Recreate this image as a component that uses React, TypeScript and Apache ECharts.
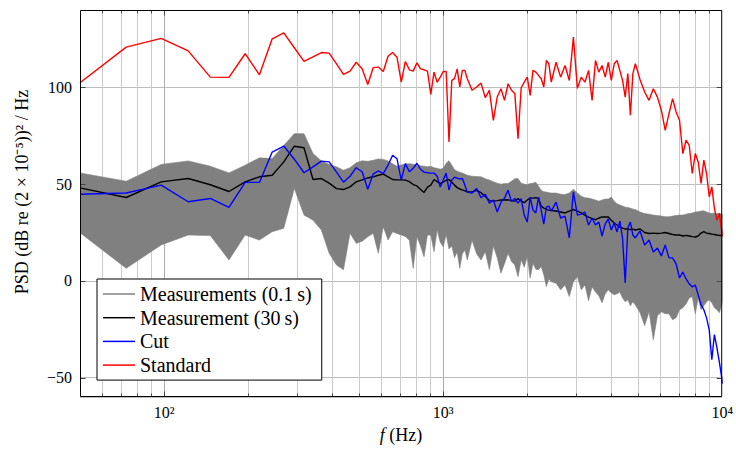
import React, { useEffect, useRef } from 'react';
import * as echarts from 'echarts';

// Frequency bins (Hz) read along the x axis
const freqs = [
  50, 73.2, 97.7, 122.1, 146.5, 170.9, 195.3, 219.7, 244.1, 268.6,
  293.0, 317.4, 341.8, 366.2, 390.6, 415.0, 439.5, 463.9, 488.3, 512.7,
  537.1, 561.5, 585.9, 610.4, 634.8, 659.2, 683.6, 708.0, 732.4, 756.8,
  781.3, 805.7, 830.1, 854.5, 878.9, 903.3, 927.7, 952.1, 976.6, 1001.0,
  1025.4, 1049.8, 1074.2, 1098.6, 1123.0, 1147.5, 1171.9, 1196.3, 1220.7,
  1269.5, 1318.4, 1367.2, 1416.0, 1464.8, 1513.7, 1562.5, 1611.3, 1660.2, 1709.0,
  1757.8, 1806.6, 1855.5, 1904.3, 1953.1, 2002.0, 2050.8, 2099.6, 2148.4, 2197.3,
  2246.1, 2294.9, 2343.8, 2392.6, 2441.4,
  2539.1, 2636.7, 2734.4, 2832.0, 2929.7, 3027.3, 3125.0, 3222.7, 3320.3, 3418.0,
  3515.6, 3613.3, 3710.9, 3808.6, 3906.3, 4003.9, 4101.6, 4199.2, 4296.9, 4394.5,
  4492.2, 4589.8, 4687.5, 4785.2, 4882.8,
  5078.1, 5273.4, 5468.8, 5664.1, 5859.4, 6054.7, 6250.0, 6445.3, 6640.6, 6835.9,
  7031.3, 7226.6, 7421.9, 7617.2, 7812.5, 8007.8, 8203.1, 8398.4, 8593.8, 8789.1,
  8984.4, 9179.7, 9375.0, 9570.3, 9765.6, 9960.9,
  10000,
];

// Standard (red)
const standardPsd = [
  102.4, 120.8, 125.3, 118.9, 105.3, 105.2, 117.4, 106.5, 125.1, 128.2,
  120.5, 113.4, 115.8, 118.0, 117.7, 112.2, 106.7, 108.4, 113.0, 109.6,
  101.5, 110.2, 110.5, 108.2, 116.1, 118.0, 115.6, 102.7, 113.4, 109.1,
  108.4, 112.7, 109.6, 109.1, 108.4, 96.4, 107.9, 102.7, 105.3, 108.2,
  108.2, 71.8, 103.6, 104.5, 109.6, 100.2, 108.8, 108.8, 104.5,
  98.5, 100.2, 102.2, 94.7, 98.5, 83.0, 95.0, 99.3, 93.3, 101.9,
  98.5, 96.8, 73.5, 99.8, 102.7, 105.3, 95.9, 108.8, 107.9, 106.2,
  104.5, 100.2, 113.9, 112.2, 102.7,
  113.0, 105.3, 111.3, 103.6, 126.0, 99.5, 105.3, 102.7, 108.8, 93.3,
  113.9, 107.9, 111.3, 105.3, 113.0, 103.6, 112.2, 113.9, 108.8, 103.6,
  95.0, 107.1, 85.6, 107.1, 112.2,
  104.0, 97.6, 93.3, 99.3, 95.0, 88.1, 77.8, 86.4, 94.2, 87.3,
  83.0, 65.8, 72.7, 70.1, 55.5, 65.8, 61.5, 50.4, 62.4, 55.5,
  43.5, 48.6, 37.5, 31.4, 34.9, 26.0,
  23.0,
];

// Measurement (30 s) (black)
const meas30 = [
  48.1, 43.1, 51.2, 52.9, 49.7, 46.2, 51.2, 53.8, 54.6, 61.5,
  69.6, 68.8, 52.4, 52.9, 50.5, 47.7, 47.2, 48.6, 51.2, 52.2,
  53.2, 53.8, 54.6, 55.2, 53.8, 52.4, 52.2, 52.2, 52.1, 51.3,
  49.8, 49.1, 47.2, 45.7, 48.5, 49.5, 52.4, 51.3, 50.3, 51.0,
  52.0, 52.4, 51.0, 49.5, 48.2, 47.5, 47.0, 46.5, 46.0,
  46.0, 46.8, 45.6, 43.6, 41.5, 41.3, 41.5, 41.8, 41.8, 41.9,
  41.5, 41.2, 42.5, 41.2, 40.4, 41.8, 42.8, 42.8, 43.0, 42.5,
  38.7, 37.6, 37.1, 36.6, 36.4,
  36.1, 35.6, 35.1, 36.1, 36.9, 36.1, 35.1, 34.0, 33.0, 32.2,
  31.7, 32.5, 33.0, 33.0, 33.0, 31.4, 29.9, 28.9, 27.8, 27.3,
  26.8, 26.8, 26.5, 26.8, 26.3,
  26.8, 25.0, 24.5, 24.7, 24.5, 24.7, 25.0, 24.5, 24.0, 23.7,
  23.7, 23.2, 23.5, 23.2, 22.9, 22.7, 23.2, 24.7, 25.5, 24.7,
  24.5, 24.2, 24.0, 23.7, 23.5, 23.5,
  23.2,
];

// Cut (blue)
const cutPsd = [
  44.8, 45.4, 49.5, 40.9, 42.6, 38.0, 50.9, 50.9, 66.6, 69.7,
  62.9, 55.9, 58.9, 61.9, 61.5, 56.2, 51.0, 54.1, 58.5, 56.4,
  47.4, 55.2, 56.9, 55.4, 59.8, 64.9, 63.1, 52.1, 60.6, 56.4,
  58.2, 60.8, 57.7, 56.2, 55.9, 55.7, 55.7, 54.1, 48.5, 52.1,
  55.7, 46.9, 52.1, 53.6, 53.1, 52.6, 52.9, 49.5, 45.9,
  45.4, 47.8, 43.0, 44.8, 40.2, 41.8, 35.6, 40.7, 42.8, 46.9,
  41.0, 42.6, 40.2, 42.5, 34.0, 30.4, 43.3, 36.6, 35.1, 43.3,
  36.6, 29.4, 38.1, 38.7, 36.1,
  40.7, 32.5, 33.5, 22.2, 46.0, 34.0, 34.5, 35.6, 28.9, 32.5,
  28.9, 30.4, 23.2, 29.4, 32.0, 26.3, 29.9, 25.3, 30.9, 22.2,
  -1.0, 27.3, 30.4, 23.7, 22.2,
  25.8, 18.6, 21.1, 14.9, 17.0, 12.9, 18.6, 11.9, 11.9, 8.8,
  1.5, 4.6, 1.0, -1.5, -3.1, -2.1, -7.2, -12.4, -14.9, -19.1,
  -25.3, -40.7, -27.8, -34.5, -41.8, -50.0,
  -53.1,
];

// Measurements (0.1 s): upper and lower envelope of the grey band
const bandUpper = [
  55.8, 51.5, 60.2, 62.0, 59.3, 55.8, 59.8, 63.6, 63.2, 70.0,
  76.1, 76.1, 65.8, 62.0, 60.2, 59.0, 57.2, 58.5, 61.0, 62.1,
  61.8, 62.3, 63.0, 62.8, 62.0, 60.5, 59.2, 59.9, 60.5, 60.6,
  60.3, 59.8, 59.5, 59.3, 59.0, 59.3, 58.5, 58.2, 57.7, 58.2,
  60.8, 62.1, 59.8, 57.5, 56.7, 56.2, 55.7, 55.2, 54.6,
  54.1, 53.9, 53.8, 52.8, 52.1, 51.3, 50.5, 50.0, 50.3, 50.4,
  51.5, 52.8, 52.9, 50.5, 50.0, 49.7, 50.3, 50.5, 51.0, 48.9,
  46.9, 46.1, 45.9, 45.6, 45.4,
  45.4, 44.8, 44.6, 45.4, 47.4, 45.4, 43.8, 43.0, 42.8, 42.3,
  41.8, 41.2, 41.8, 42.3, 42.3, 43.3, 41.2, 39.9, 39.2, 38.7,
  38.1, 37.9, 37.6, 37.1, 36.9,
  35.6, 34.8, 34.5, 34.0, 33.8, 33.5, 33.2, 33.1, 33.5, 33.8,
  34.0, 34.0, 34.5, 34.8, 35.1, 35.6, 35.8, 36.1, 36.2, 35.6,
  35.1, 34.8, 35.1, 34.8, 34.9, 34.5,
  34.5,
];

const bandLower = [
  24.9, 6.5, 18.6, 23.7, 23.4, 10.8, 23.7, 21.1, 25.4, 27.2,
  47.8, 34.0, 31.4, 26.3, 14.3, 8.2, 5.7, 24.6, 19.4, 20.5,
  22.8, 24.6, 14.3, 28.0, 21.1, 25.4, 24.5, 23.7, 23.0, 21.0,
  6.5, 22.8, 18.0, 12.5, 23.7, 23.7, 15.1, 26.3, 20.0, 17.7,
  24.0, 16.5, 18.0, 12.0, 15.0, 6.5, 14.0, 16.0, 10.8,
  21.0, 14.0, 10.8, 15.1, 5.7, 18.0, 12.0, 4.0, 9.0, 14.3,
  10.0, 8.2, 2.2, 10.8, 7.0, 12.5, 1.4, 9.0, 6.0, 5.7,
  7.5, 3.1, -2.9, 1.0, -0.4,
  -1.2, -4.6, -2.1, -8.1, -0.4, 2.2, -4.6, -2.1, -10.3, -3.1,
  -5.7, -7.7, -11.3, -6.7, -4.6, -6.2, -7.2, -6.7, -5.7, -8.8,
  -10.8, -9.8, -12.9, -10.8, -12.4,
  -16.5, -23.2, -16.0, -30.4, -18.0, -16.0, -17.0, -17.0, -20.1, -19.1,
  -14.9, -13.9, -11.9, -8.8, -8.2, -17.0, -8.8, -14.9, -12.9, -10.8,
  -9.8, -11.3, -13.9, -14.9, -16.5, -12.4,
  -9.8,
];

const minorGridFreqs = [60, 70, 80, 90, 200, 300, 400, 500, 600, 700, 800, 900,
  2000, 3000, 4000, 5000, 6000, 7000, 8000, 9000];
const majorGridFreqs = [100, 1000];
const yTickValues = [-50, 0, 50, 100];
const legendNames = ['Measurements (0.1\u2009s)', 'Measurement (30\u2009s)', 'Cut', 'Standard'];
const yAxisTitle = 'PSD (dB re (2 × 10⁻⁵))² / Hz';

const FONT = 'Liberation Serif';
const SUP: Record<string, string> = {
  '0': '⁰', '1': '¹', '2': '²', '3': '³', '4': '⁴', '5': '⁵', '6': '⁶', '7': '⁷', '8': '⁸', '9': '⁹',
};

function pairs(ys: number[]) {
  return freqs.map((f, i) => [f, ys[i]]);
}

export default function App() {
  const ref = useRef<HTMLDivElement>(null);
  useEffect(() => {
    if (!ref.current) return;
    const chart = echarts.init(ref.current, null, { renderer: 'svg' });
    const option: any = {
      animation: false,
      backgroundColor: '#ffffff',
      textStyle: { fontFamily: FONT },
      grid: { left: 80, top: 10, right: 11, bottom: 52, containLabel: false },
      xAxis: {
        type: 'log',
        logBase: 10,
        min: 50,
        max: 10000,
        axisLine: { show: false },
        axisTick: { show: false },
        splitLine: { show: false },
        axisLabel: {
          color: '#000',
          fontFamily: FONT,
          fontSize: 16,
          margin: 7,
          formatter: (v: number) => {
            const e = Math.log10(v);
            if (Math.abs(e - Math.round(e)) < 1e-6) {
              return '10' + String(Math.round(e)).split('').map((c) => SUP[c]).join('');
            }
            return '';
          },
        },
        name: '{i|f} {n|(Hz)}',
        nameLocation: 'middle',
        nameGap: 29,
        nameTextStyle: {
          color: '#000',
          fontFamily: FONT,
          fontSize: 18,
          rich: {
            i: { fontStyle: 'italic', fontFamily: FONT, fontSize: 18, color: '#000' },
            n: { fontFamily: FONT, fontSize: 18, color: '#000' },
          },
        },
      },
      yAxis: {
        type: 'value',
        min: -60,
        max: 140,
        splitNumber: 4,
        axisLine: { show: false },
        axisTick: { show: false },
        splitLine: { show: true, lineStyle: { color: '#bdbdbd', width: 1 } },
        axisLabel: {
          color: '#000',
          fontFamily: FONT,
          fontSize: 16,
          margin: 8,
          formatter: (v: number) => (v % 50 === 0 ? (v < 0 ? '\u2212' + -v : String(v)) : ''),
        },
      },
      legend: {
        data: legendNames,
        orient: 'vertical',
        left: 97,
        top: 279,
        icon: 'rect',
        itemWidth: 32,
        itemHeight: 1.5,
        itemGap: 3.7,
        padding: [5, 10, 5, 6],
        backgroundColor: '#fff',
        borderColor: '#000',
        borderWidth: 1,
        borderRadius: 0,
        selectedMode: false,
        textStyle: { fontFamily: FONT, fontSize: 20, color: '#000', lineHeight: 20 },
      },
      graphic: [
        {
          type: 'text',
          x: 22,
          y: 192,
          rotation: Math.PI / 2,
          style: {
            text: yAxisTitle,
            font: `18px ${FONT}`,
            fill: '#000',
            align: 'center',
            verticalAlign: 'middle',
            textAlign: 'center',
            textVerticalAlign: 'middle',
          },
        },
      ],
      series: [
        {
          type: 'custom',
          name: '__grid',
          silent: true,
          coordinateSystem: 'cartesian2d',
          data: [[100, 0]],
          renderItem: (params: any, api: any) => {
            const cs = params.coordSys;
            const top = cs.y;
            const bottom = cs.y + cs.height;
            const children: any[] = [];
            minorGridFreqs.forEach((f) => {
              const x = Math.round(api.coord([f, 0])[0]) + 0.5;
              children.push({ type: 'line', shape: { x1: x, y1: top, x2: x, y2: bottom }, style: { stroke: '#cbcbcb', lineWidth: 1 } });
            });
            majorGridFreqs.forEach((f) => {
              const x = Math.round(api.coord([f, 0])[0]) + 0.5;
              children.push({ type: 'line', shape: { x1: x, y1: top, x2: x, y2: bottom }, style: { stroke: '#adadad', lineWidth: 1 } });
            });
            return { type: 'group', children };
          },
        },
        {
          type: 'custom',
          name: legendNames[0],
          silent: true,
          coordinateSystem: 'cartesian2d',
          clip: true,
          itemStyle: { color: '#808080' },
          data: [[freqs[0], bandUpper[0]]],
          renderItem: (params: any, api: any) => {
            if (params.dataIndex !== 0) return null;
            const pts: number[][] = [];
            for (let i = 0; i < freqs.length; i++) pts.push(api.coord([freqs[i], bandUpper[i]]));
            for (let i = freqs.length - 1; i >= 0; i--) pts.push(api.coord([freqs[i], bandLower[i]]));
            return {
              type: 'polygon',
              shape: { points: pts },
              style: { fill: '#808080', stroke: '#808080', lineWidth: 0.6 },
            };
          },
        },
        {
          type: 'line',
          name: legendNames[1],
          data: pairs(meas30),
          symbol: 'none',
          silent: true,
          clip: true,
          lineStyle: { color: '#000000', width: 1.4 },
          itemStyle: { color: '#000000' },
        },
        {
          type: 'line',
          name: legendNames[2],
          data: pairs(cutPsd),
          symbol: 'none',
          silent: true,
          clip: true,
          lineStyle: { color: '#0000ff', width: 1.4 },
          itemStyle: { color: '#0000ff' },
        },
        {
          type: 'line',
          name: legendNames[3],
          data: pairs(standardPsd),
          symbol: 'none',
          silent: true,
          clip: true,
          lineStyle: { color: '#ff0000', width: 1.4 },
          itemStyle: { color: '#ff0000' },
        },
        {
          type: 'custom',
          name: '__frame',
          silent: true,
          coordinateSystem: 'cartesian2d',
          z: 5,
          data: [[100, 0]],
          renderItem: (params: any, api: any) => {
            const cs = params.coordSys;
            const left = cs.x + 0.5;
            const right = cs.x + cs.width - 0.5;
            const top = cs.y + 0.5;
            const bottom = cs.y + cs.height - 0.5;
            const children: any[] = [];
            const tick = (f: number, len: number) => {
              const x = Math.round(api.coord([f, 0])[0]) + 0.5;
              children.push({ type: 'line', shape: { x1: x, y1: bottom, x2: x, y2: bottom - len }, style: { stroke: '#444', lineWidth: 1 } });
              children.push({ type: 'line', shape: { x1: x, y1: top, x2: x, y2: top + len }, style: { stroke: '#444', lineWidth: 1 } });
            };
            minorGridFreqs.forEach((f) => tick(f, 3));
            majorGridFreqs.forEach((f) => tick(f, 5));
            yTickValues.forEach((v) => {
              const y = Math.round(api.coord([100, v])[1]) + 0.5;
              children.push({ type: 'line', shape: { x1: left, y1: y, x2: left + 5, y2: y }, style: { stroke: '#444', lineWidth: 1 } });
              children.push({ type: 'line', shape: { x1: right, y1: y, x2: right - 5, y2: y }, style: { stroke: '#444', lineWidth: 1 } });
            });
            children.push({
              type: 'rect',
              shape: { x: left, y: top, width: right - left, height: bottom - top },
              style: { fill: 'none', stroke: '#000', lineWidth: 1 },
            });
            return { type: 'group', children };
          },
        },
      ],
    };
    chart.setOption(option);
    return () => chart.dispose();
  }, []);
  return (
    <div
      ref={ref}
      style={{ position: 'fixed', left: 0, top: 0, width: 736, height: 449, background: '#fff' }}
    />
  );
}
